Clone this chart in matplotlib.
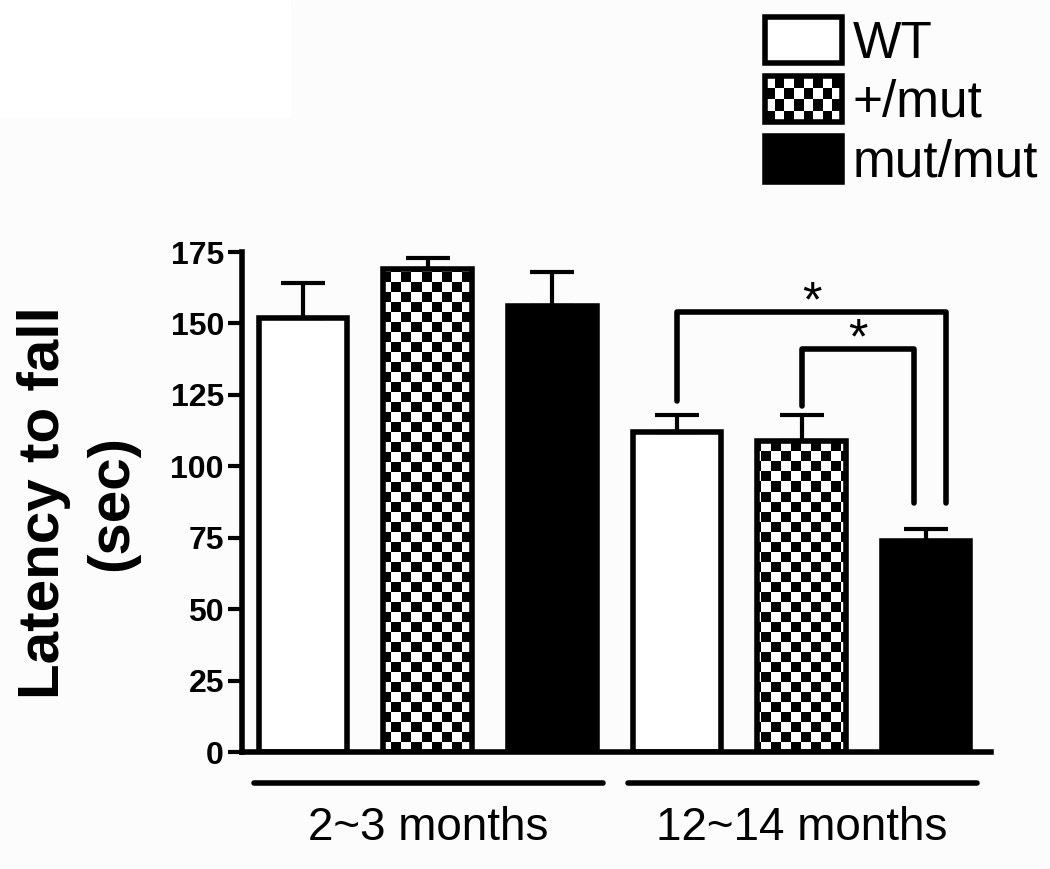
import numpy as np
import matplotlib
matplotlib.use("Agg")
import matplotlib.pyplot as plt
from matplotlib.patches import Rectangle, Patch
from matplotlib.collections import PatchCollection
from matplotlib.legend_handler import HandlerBase

plt.rcParams["font.family"] = ["Liberation Sans", "DejaVu Sans"]

# data
groups = ["2~3 months", "12~14 months"]
genotypes = ["WT", "+/mut", "mut/mut"]
wt_mean = [152, 112]
het_mean = [169, 109]
hom_mean = [156, 74]
wt_err = [12, 6]
het_err = [4, 9]
hom_err = [12, 4]
yticks = [0, 25, 50, 75, 100, 125, 150, 175]
# significance brackets: (bar a, bar b, bracket height, leg end a, leg end b)
brackets = [(3, 5, 154, 123, 87), (4, 5, 141, 121, 87)]
# sideways nudge of the bracket legs so they do not sit on top of each other
leg_dx = [(0.0, 0.16), (0.0, -0.1)]

means = [wt_mean, het_mean, hom_mean]
errs = [wt_err, het_err, hom_err]

LW = 4.0
fig = plt.figure(figsize=(10.5, 8.69), dpi=100, facecolor="#fcfcfc")
fig.patches.append(Rectangle((0, 1 - 117 / 869), 290 / 1050, 117 / 869,
                             transform=fig.transFigure, color="white", zorder=0))
ax = fig.add_axes([242 / 1050, 117 / 869, 749 / 1050, 500 / 869])
ax.set_facecolor("none")

xlim = (-0.49, 5.52)
ylim = (0, 175)

# checker texture, about 10 px per cell
checker = (np.add.outer(np.arange(50), np.arange(75)) % 2).astype(float)

bar_w = 0.71
for g in range(len(groups)):
    for i in range(len(genotypes)):
        x = g * 3 + i
        y = means[i][g]
        face = "black" if i == 2 else "white"
        bars = ax.bar(x, y, width=bar_w, color=face, zorder=1)
        if i == 1:
            im = ax.imshow(checker, cmap="gray", extent=(*xlim, *ylim),
                           aspect="auto", interpolation="nearest", zorder=1.5)
            im.set_clip_path(bars[0])
        ax.bar(x, y, width=bar_w, fill=False, edgecolor="black",
               linewidth=LW, zorder=2)
        ax.errorbar(x, y, yerr=[[0], [errs[i][g]]], fmt="none", ecolor="black",
                    elinewidth=3, capsize=16, capthick=3, zorder=2.5)

# brackets with stars
for (a, b, h, ea, eb), (da, db) in zip(brackets, leg_dx):
    xa, xb = a + da, b + db
    ax.plot([xa, xa, xb, xb], [ea, h, h, eb], color="black", lw=LW,
            solid_capstyle="round", solid_joinstyle="round", clip_on=False, zorder=3)
    ax.text((xa + xb) / 2, h - 5, "*", ha="center", va="bottom",
            fontsize=36, zorder=3)

ax.set_xlim(*xlim)
ax.set_ylim(*ylim)
ax.set_yticks(yticks)
ax.set_yticklabels([str(t) for t in yticks], fontsize=23, fontweight="bold")
ax.tick_params(axis="y", length=10, width=3, pad=3)
ax.set_xticks([])
for s in ["top", "right"]:
    ax.spines[s].set_visible(False)
ax.spines["left"].set_linewidth(LW)
ax.spines["bottom"].set_linewidth(LW)

# group lines and labels under the axis
for g, name in enumerate(groups):
    c = g * 3 + 1
    ax.plot([c - 1.39, c + 1.41], [-11, -11], color="black", lw=LW,
            solid_capstyle="round", clip_on=False)
    ax.text(c, -26.5, name, ha="center", va="center", fontsize=33)

fig.text(78 / 1050, 1 - 503 / 869, "Latency to fall\n(sec)", rotation=90,
         ha="center", va="center", fontsize=42, fontweight="bold",
         multialignment="center", linespacing=1.35)


class HandlerChecker(HandlerBase):
    def create_artists(self, legend, orig_handle, xdescent, ydescent,
                       width, height, fontsize, trans):
        x0, y0 = -xdescent, -ydescent
        bg = Rectangle((x0, y0), width, height, facecolor="white",
                       edgecolor="none", transform=trans)
        n_x, n_y = 8, 4
        cw, ch = width / n_x, height / n_y
        sq = [Rectangle((x0 + c * cw, y0 + r * ch), cw, ch)
              for r in range(n_y) for c in range(n_x) if (r + c) % 2 == 0]
        pc = PatchCollection(sq, facecolor="black", edgecolor="none",
                             transform=trans)
        border = Rectangle((x0, y0), width, height, facecolor="none",
                           edgecolor="black", linewidth=LW, transform=trans)
        return [bg, pc, border]


handles = [Patch(facecolor="white", edgecolor="black", linewidth=LW),
           Patch(facecolor="white", edgecolor="black"),
           Patch(facecolor="black", edgecolor="black", linewidth=LW)]
fig.legend(handles, genotypes, loc="upper left",
           bbox_to_anchor=(765 / 1050, 1 - 17 / 869), frameon=False,
           fontsize=37, handlelength=1.5, handleheight=1.0,
           handletextpad=0.2, labelspacing=0.15, borderpad=0, borderaxespad=0,
           handler_map={handles[1]: HandlerChecker()})

fig.savefig("out.png", dpi=100, facecolor=fig.get_facecolor())
